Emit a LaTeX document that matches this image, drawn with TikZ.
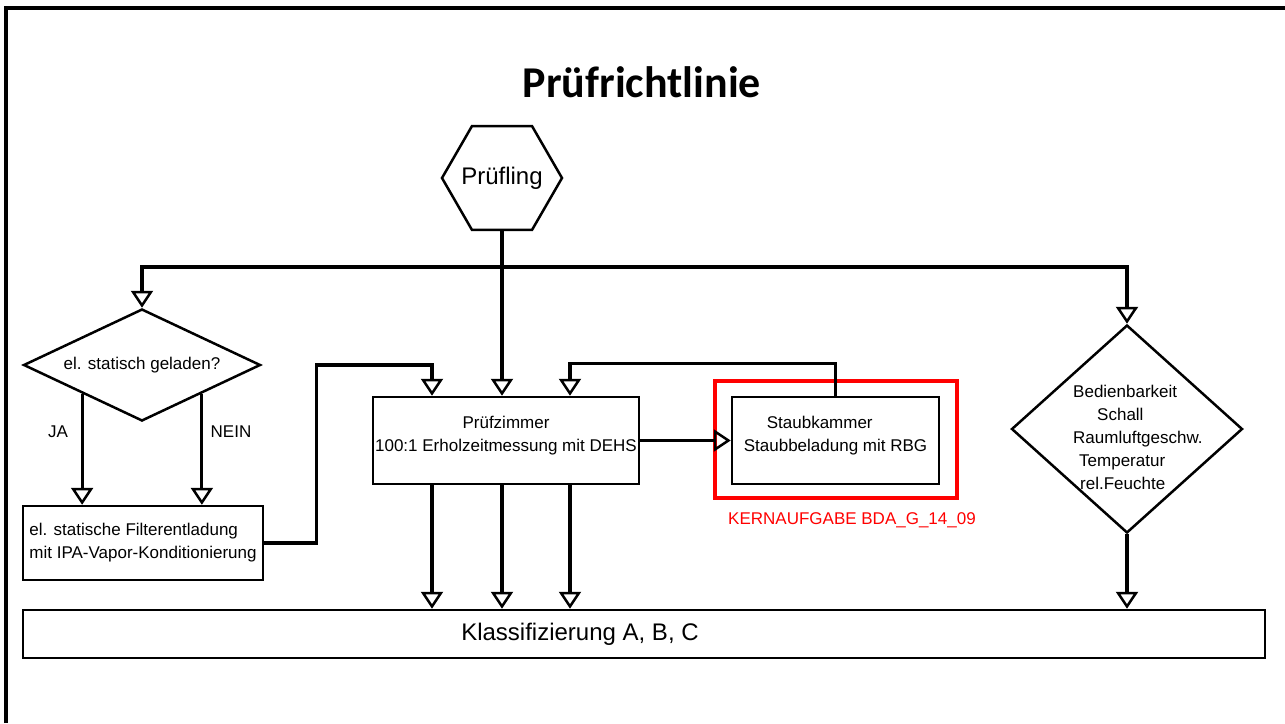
\documentclass[tikz,border=0pt]{standalone}
\usepackage{fontspec}
\setmainfont{Liberation Sans}
\newfontfamily\titelfont{Carlito}
\usetikzlibrary{arrows.meta, shapes.geometric, positioning, calc}

\tikzset{
  kasten/.style={draw, line width=2.5pt, inner sep=0pt},
  raute/.style={draw, diamond, line width=2.5pt, inner sep=0pt},
  pfeil/.style={line width=3.2pt, -{Triangle[open, length=17pt, width=22pt, line width=2.5pt]}},
}

\begin{document}
\begin{tikzpicture}[x=1pt, y=-1pt, font=\fontsize{17}{23}\selectfont]
\useasboundingbox (0,0) rectangle (1285,723);
% Rahmen
\draw[line width=4pt] (6,723) -- (6,8) -- (1285,8);

\node[anchor=base, font=\titelfont\bfseries\fontsize{44}{50}\selectfont] (titel) at (642,97) {Prüfrichtlinie};

% Knoten
\node[draw, regular polygon, regular polygon sides=6, minimum size=120pt, line width=2.5pt, inner sep=0pt] (pruefling) at (502,178) {};
\node[font=\fontsize{24}{28}\selectfont] (prueftext) at (pruefling.center) {Prüfling};
\node[raute, aspect=2.1, minimum width=237pt, minimum height=112pt] (frage) at (142,365) {el. statisch geladen?};
\node (ja) at (58,432) {JA};
\node (nein) at (231,432) {NEIN};
\node[kasten, minimum width=240pt, minimum height=74pt, align=left] (entlad) at (143,543) {el. statische Filterentladung\\mit IPA-Vapor-Konditionierung};
\node[kasten, minimum width=266pt, minimum height=87pt, align=center, text depth=14pt] (zimmer) at (506,440.5) {Prüfzimmer\\100:1 Erholzeitmessung mit DEHS};
\node[kasten, minimum width=207pt, minimum height=87pt, align=left, text depth=14pt] (staub) at (835.5,440.5) {\hspace{23pt}Staubkammer\\Staubbeladung mit RBG};
\node[draw=red, line width=3.5pt, minimum width=242pt, minimum height=117pt] (kern) at (836,439.5) {};
\node[text=red] (kerntext) at (852,520) {KERNAUFGABE BDA\_G\_14\_09};
\node[raute, minimum width=231pt, minimum height=208pt] (bedien) at (1127,429) {};
\node[anchor=west, align=left, inner sep=0pt] (bedientext) at (1073,437) {Bedienbarkeit\\\hspace{24pt}Schall\\Raumluftgeschw.\\\hspace{6pt}Temperatur\\\hspace{7pt}rel.Feuchte};
\node[kasten, minimum width=1242pt, minimum height=48pt] (klass) at (644,634) {};
\node[font=\fontsize{24}{28}\selectfont] (klasstext) at (580,634) {Klassifizierung A, B, C};

% Verbindungen
\coordinate (verteiler) at (pruefling.south |- 0,267);
\draw[pfeil] (pruefling.south) -- (pruefling.south |- zimmer.north);
\draw[pfeil] (verteiler) -| (frage.north);
\draw[pfeil] (verteiler) -| (bedien.north);
\coordinate (jaab) at ($(frage.west)!0.5!(frage.south)$);
\coordinate (neinab) at ($(frage.east)!0.5!(frage.south)$);
\draw[pfeil] (jaab) -- (jaab |- entlad.north);
\draw[pfeil] (neinab) -- (neinab |- entlad.north);
\draw[pfeil] (entlad.east) -- ++(52,0) |- (432,365) -- (432,0 |- zimmer.north);
\draw[pfeil] (staub.north) -- ++(0,-32) -| (570,0 |- zimmer.north);
\draw[pfeil] (zimmer.east) -- (staub.west);
\foreach \x in {432,502,570}
  \draw[pfeil] (\x,0 |- zimmer.south) -- (\x,0 |- klass.north);
\draw[pfeil] (bedien.south) -- (bedien.south |- klass.north);
\end{tikzpicture}
\end{document}
